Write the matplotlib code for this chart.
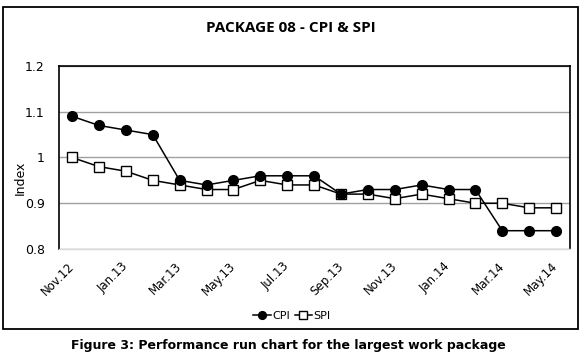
import matplotlib
matplotlib.use("Agg")
import matplotlib.pyplot as plt
from matplotlib.patches import Rectangle

months = ["Nov.12", "Dec.12", "Jan.13", "Feb.13", "Mar.13", "Apr.13", "May.13", "Jun.13",
          "Jul.13", "Aug.13", "Sep.13", "Oct.13", "Nov.13", "Dec.13", "Jan.14", "Feb.14",
          "Mar.14", "Apr.14", "May.14"]
cpi = [1.09, 1.07, 1.06, 1.05, 0.95, 0.94, 0.95, 0.96, 0.96, 0.96, 0.92, 0.93, 0.93,
       0.94, 0.93, 0.93, 0.84, 0.84, 0.84]
spi = [1.00, 0.98, 0.97, 0.95, 0.94, 0.93, 0.93, 0.95, 0.94, 0.94, 0.92, 0.92, 0.91,
       0.92, 0.91, 0.90, 0.90, 0.89, 0.89]
tick_labels = months[::2]
yticks = [0.8, 0.9, 1.0, 1.1, 1.2]
ytick_labels = ["0.8", "0.9", "1", "1.1", "1.2"]

W, H = 580, 356
fig = plt.figure(figsize=(W / 100, H / 100), dpi=100)
fig.patch.set_facecolor("white")

# outer chart border
fig.patches.append(Rectangle((3 / W, 1 - 329 / H), 575 / W, 322 / H,
                             transform=fig.transFigure, fill=False,
                             edgecolor="black", linewidth=1.3))

ax = fig.add_axes([58.7 / W, 1 - 249 / H, (569.5 - 58.7) / W, (249 - 66) / H])
x = list(range(len(months)))
ax.plot(x, cpi, color="black", linewidth=1.1, marker="o", markersize=7,
        markerfacecolor="black", markeredgecolor="black", label="CPI", zorder=3)
ax.plot(x, spi, color="black", linewidth=1.1, marker="s", markersize=7,
        markerfacecolor="white", markeredgecolor="black", markeredgewidth=1.0,
        label="SPI", zorder=2)

ax.set_xlim(-0.5, len(months) - 0.5)
ax.set_ylim(0.8, 1.2)
ax.set_yticks(yticks)
ax.set_yticklabels(ytick_labels, fontsize=9, family="DejaVu Sans")
ax.set_xticks(x[::2])
ax.set_xticklabels(tick_labels, rotation=45, ha="right", va="center",
                   rotation_mode="anchor", fontsize=8.5, family="DejaVu Sans")
ax.tick_params(axis="y", length=0, pad=10)
ax.tick_params(axis="x", length=0, pad=11)
ax.grid(axis="y", color="#a0a0a0", linewidth=1.0)
ax.set_axisbelow(True)
for s in ("top", "left", "right"):
    ax.spines[s].set_color("black")
    ax.spines[s].set_linewidth(1.2)
ax.spines["bottom"].set_color("#d8d8d8")
ax.spines["bottom"].set_linewidth(1.0)

ax.set_ylabel("Index", fontsize=9, family="DejaVu Sans")
ax.yaxis.set_label_coords(20 / W, 0.5, transform=fig.transFigure)
ax.yaxis.label.set_va("center")

fig.text(291 / W, 1 - 28 / H, "PACKAGE 08 - CPI & SPI", ha="center", va="center",
         fontsize=11, fontweight="bold", family="Open Sans")

leg = fig.legend(handles=ax.get_lines(), loc="center", bbox_to_anchor=(292 / W, 1 - 316 / H),
                 ncol=2, frameon=False, fontsize=8, handlelength=1.6, handletextpad=0.1,
                 columnspacing=0.4, markerscale=0.8)

fig.text(288 / W, 1 - 346 / H, "Figure 3: Performance run chart for the largest work package",
         ha="center", va="center", fontsize=9, fontweight="bold", family="DejaVu Sans")

fig.savefig("out.png", dpi=100)
